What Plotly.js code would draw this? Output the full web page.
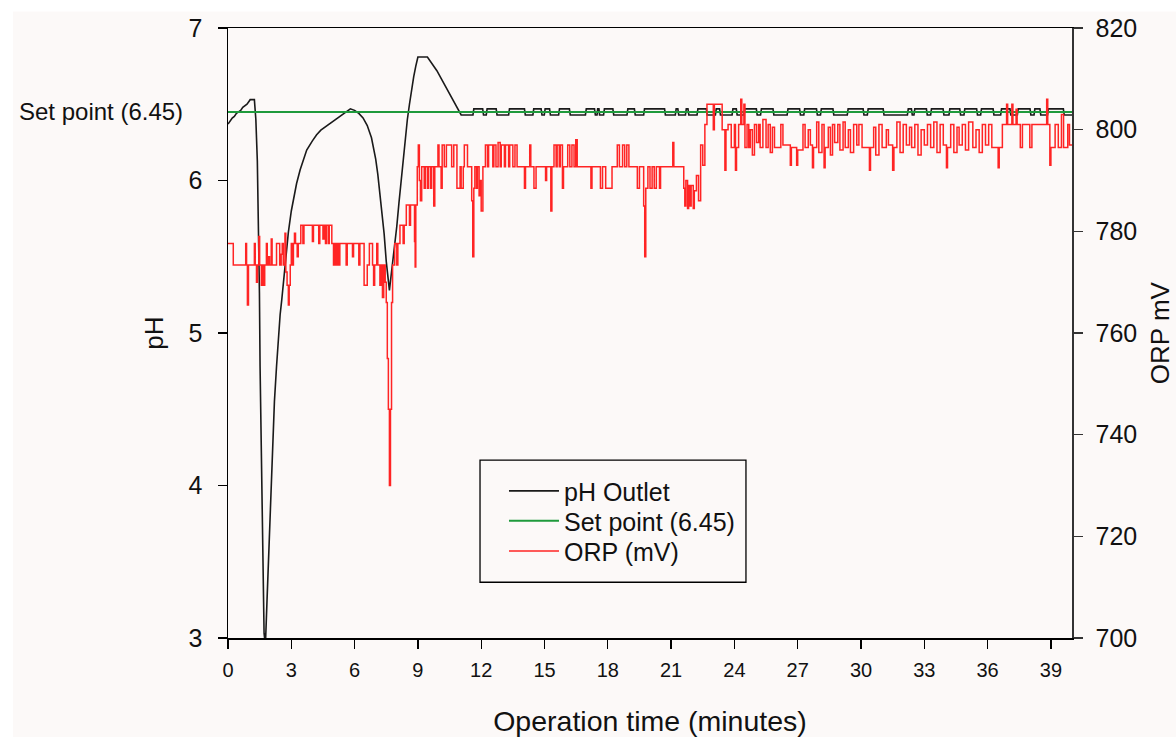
<!DOCTYPE html>
<html>
<head>
<meta charset="utf-8">
<script src="https://cdn.plot.ly/plotly-3.0.1.min.js"></script>
<style>
  html, body { margin: 0; padding: 0; background: #ffffff; }
  #chart { width: 1176px; height: 737px; }
</style>
</head>
<body>
<div id="chart"></div>
<script>
// ---- Data ----
const xTickVals = [0, 3, 6, 9, 12, 15, 18, 21, 24, 27, 30, 33, 36, 39];
const setPointValue = 6.45;
const setPointTime = [0, 40];

// pH outlet (time in minutes, pH)
const phTime = [
  0, 0.1, 0.2, 0.3, 0.4, 0.5, 0.6, 0.7, 0.8, 0.9,
  1.0, 1.05, 1.25, 1.32, 1.39, 1.45, 1.49, 1.52, 1.56, 1.6,
  1.65, 1.71, 1.75, 1.78, 1.85, 1.96, 2.05, 2.12, 2.2, 2.3,
  2.39, 2.47, 2.55, 2.7, 2.86, 3.0, 3.1, 3.25, 3.42, 3.6,
  3.73, 4.0, 4.2, 4.4, 4.6, 4.8, 5.0, 5.2, 5.4, 5.6,
  5.8, 6.0, 6.2, 6.4, 6.6, 6.8, 6.9, 7.0, 7.1, 7.2,
  7.3, 7.4, 7.5, 7.6, 7.65, 7.7, 7.8, 7.9, 8.0, 8.1,
  8.2, 8.3, 8.4, 8.5, 8.6, 8.7, 8.8, 8.9, 9.0, 9.45,
  9.7, 9.9, 10.1, 10.3, 10.5, 10.7, 10.9, 11.05,
  11.61, 11.65, 12.07, 12.11,
  12.24, 12.28, 12.71, 12.75,
  13.30, 13.34, 14.05, 14.09,
  14.45, 14.49, 14.84, 14.88,
  14.99, 15.03, 15.24, 15.28,
  15.67, 15.71, 16.18, 16.22,
  16.94, 16.98, 17.37, 17.41,
  17.49, 17.52, 17.58, 17.61,
  17.80, 17.84, 18.24, 18.28,
  18.91, 18.95, 19.26, 19.30,
  19.70, 19.74, 20.69, 20.73,
  21.20, 21.24, 21.32, 21.36,
  21.68, 21.72, 21.80, 21.84,
  22.23, 22.27, 22.67, 22.71,
  23.10, 23.14, 23.30, 23.34,
  23.89, 23.93, 24.09, 24.13,
  24.45, 24.49, 25.04, 25.08,
  25.24, 25.28, 25.83, 25.87,
  26.50, 26.54, 27.09, 27.13,
  27.29, 27.33, 27.89, 27.93,
  28.08, 28.12, 28.67, 28.71,
  29.35, 29.39, 30.10, 30.14,
  30.30, 30.34, 31.05, 31.09,
  32.20, 32.24, 32.39, 32.43,
  32.51, 32.55, 33.10, 33.14,
  33.30, 33.34, 33.89, 33.93,
  34.17, 34.21, 34.68, 34.72,
  34.88, 34.92, 35.48, 35.52,
  35.67, 35.71, 36.26, 36.30,
  36.62, 36.66, 37.06, 37.10,
  37.41, 37.45, 38.01, 38.05,
  38.20, 38.24, 38.48, 38.52,
  38.84, 38.88, 39.59, 39.63,
  40
];
const phValue = [
  6.37, 6.39, 6.41, 6.42, 6.44, 6.45, 6.46, 6.48, 6.49, 6.50,
  6.52, 6.53, 6.53, 6.40, 6.13, 5.70, 5.26, 4.78, 4.35, 3.90,
  3.45, 3.03, 2.98, 2.98, 3.25, 3.69, 4.05, 4.34, 4.55, 4.78,
  5.00, 5.12, 5.22, 5.45, 5.66, 5.80, 5.87, 5.98, 6.07, 6.15,
  6.20, 6.26, 6.30, 6.33, 6.35, 6.37, 6.39, 6.41, 6.43, 6.45,
  6.47, 6.46, 6.44, 6.41, 6.36, 6.28, 6.22, 6.14, 6.04, 5.92,
  5.79, 5.65, 5.47, 5.33, 5.28, 5.34, 5.45, 5.58, 5.70, 5.85,
  6.00, 6.13, 6.28, 6.40, 6.50, 6.60, 6.68, 6.75, 6.81, 6.81,
  6.76, 6.72, 6.67, 6.62, 6.57, 6.52, 6.47, 6.43,
  6.43, 6.47, 6.47, 6.43,
  6.43, 6.47, 6.47, 6.43,
  6.43, 6.47, 6.47, 6.43,
  6.43, 6.47, 6.47, 6.43,
  6.43, 6.47, 6.47, 6.43,
  6.43, 6.47, 6.47, 6.43,
  6.43, 6.47, 6.47, 6.43,
  6.43, 6.47, 6.47, 6.43,
  6.43, 6.47, 6.47, 6.43,
  6.43, 6.47, 6.47, 6.43,
  6.43, 6.47, 6.47, 6.43,
  6.43, 6.47, 6.47, 6.43,
  6.43, 6.47, 6.47, 6.43,
  6.43, 6.47, 6.47, 6.43,
  6.43, 6.47, 6.47, 6.43,
  6.43, 6.47, 6.47, 6.43,
  6.43, 6.47, 6.47, 6.43,
  6.43, 6.47, 6.47, 6.43,
  6.43, 6.47, 6.47, 6.43,
  6.43, 6.47, 6.47, 6.43,
  6.43, 6.47, 6.47, 6.43,
  6.43, 6.47, 6.47, 6.43,
  6.43, 6.47, 6.47, 6.43,
  6.43, 6.47, 6.47, 6.43,
  6.43, 6.47, 6.47, 6.43,
  6.43, 6.47, 6.47, 6.43,
  6.43, 6.47, 6.47, 6.43,
  6.43, 6.47, 6.47, 6.43,
  6.43, 6.47, 6.47, 6.43,
  6.43, 6.47, 6.47, 6.43,
  6.43, 6.47, 6.47, 6.43,
  6.43, 6.47, 6.47, 6.43,
  6.43, 6.47, 6.47, 6.43,
  6.43
];

// ORP (time in minutes, mV) – value holds until next time (step trace)
const orpTime = [
  0, 0.25, 0.84, 0.88, 0.92, 0.97, 1.25, 1.29, 1.35, 1.4,
  1.46, 1.5, 1.58, 1.63, 1.7, 1.74, 1.82, 1.86, 1.92, 1.97,
  2.05, 2.09, 2.3, 2.45, 2.52, 2.57, 2.62, 2.7, 2.74, 2.8,
  2.86, 2.9, 2.95, 3.0, 3.05, 3.1, 3.15, 3.2, 3.28, 3.33,
  3.45, 3.55, 3.6, 4.0, 4.05, 4.3, 4.35, 4.5, 4.55, 4.62,
  4.66, 4.75, 4.8, 4.92, 5.0, 5.05, 5.12, 5.18, 5.25, 5.3,
  5.6, 5.65, 5.9, 5.95, 6.2, 6.25, 6.45, 6.6, 6.7, 6.85,
  6.9, 6.95, 7.05, 7.1, 7.2, 7.25, 7.32, 7.38, 7.45, 7.5,
  7.55, 7.6, 7.65, 7.7, 7.75, 7.8, 7.9, 8.0, 8.05, 8.15,
  8.3, 8.35, 8.45, 8.6, 8.65, 8.84, 8.87, 8.9, 8.97, 9.02,
  9.07, 9.12, 9.18, 9.3, 9.35, 9.45, 9.5, 9.6, 9.65, 9.75,
  9.8, 9.95, 10.0, 10.1, 10.15, 10.25, 10.35, 10.6, 10.7, 10.85,
  11.0, 11.05, 11.15, 11.2, 11.35, 11.55, 11.6, 11.65, 11.7, 11.78,
  11.82, 11.9, 11.95, 12.0, 12.08, 12.2, 12.3, 12.35, 12.55, 12.6,
  12.7, 12.8, 12.9, 12.95, 13.1, 13.15, 13.3, 13.35, 13.5, 13.6,
  13.7, 14.05, 14.1, 14.3, 14.35, 14.5, 14.6, 15.05, 15.1, 15.3,
  15.35, 15.45, 15.55, 15.6, 15.7, 15.75, 15.85, 15.9, 16.1, 16.2,
  16.3, 16.4, 16.48, 16.55, 17.2, 17.25, 17.65, 17.75, 17.9, 18.2,
  18.45, 18.55, 18.7, 18.8, 18.9, 19.0, 19.4, 19.5, 19.7, 19.75,
  19.8, 19.9, 20.0, 20.1, 20.2, 20.3, 20.45, 20.5, 21.08, 21.13,
  21.6, 21.65, 21.7, 21.78, 21.83, 21.9, 21.95, 22.05, 22.1, 22.2,
  22.3, 22.4, 22.5, 22.6, 22.7, 23.0, 23.05, 23.42, 23.55, 23.6,
  23.7, 23.85, 24.0, 24.05, 24.1, 24.2, 24.3, 24.35, 24.45, 24.5,
  24.6, 24.68, 24.75, 24.85, 24.95, 25.05, 25.15, 25.22, 25.35, 25.5,
  25.6, 25.7, 25.8, 25.9, 26.2, 26.3, 26.65, 26.7, 26.95, 27.0,
  27.25, 27.35, 27.5, 27.6, 27.7, 27.75, 27.9, 28.0, 28.15, 28.25,
  28.3, 28.45, 28.55, 28.65, 28.75, 28.9, 29.0, 29.15, 29.25, 29.4,
  29.5, 29.65, 29.8, 29.9, 30.05, 30.4, 30.45, 30.6, 30.7, 30.85,
  31.0, 31.2, 31.3, 31.5, 31.56, 31.7, 31.85, 32.0, 32.15, 32.3,
  32.4, 32.55, 32.7, 32.85, 33.0, 33.15, 33.3, 33.45, 33.6, 33.75,
  33.9, 34.05, 34.1, 34.25, 34.4, 34.55, 34.65, 34.8, 34.95, 35.1,
  35.3, 35.45, 35.6, 35.75, 35.9, 36.05, 36.2, 36.5, 36.55, 36.7,
  36.9, 36.95, 37.15, 37.2, 37.35, 37.4, 37.55, 37.65, 38.0, 38.1,
  38.8, 38.85, 38.95, 39.0, 39.2, 39.35, 39.5, 39.6, 39.8, 39.88,
  40
];
const orpValue = [
  777.6, 773.4, 777.6, 773.4, 765.5, 773.4, 777.6, 773.4, 770, 773.4,
  779, 773.4, 769.4, 773.4, 769.4, 773.4, 777.6, 773.4, 775, 773.4,
  778.5, 773.4, 777.6, 773.4, 775.5, 777.6, 773.4, 779.6, 772, 769.4,
  765.5, 769.4, 773.4, 777.6, 773.4, 777.6, 779.6, 777.6, 775, 777.6,
  781.2, 777.6, 781.2, 778, 781.2, 777.6, 781.2, 778.5, 781.2, 777.6,
  781.2, 777.6, 781.2, 777.6, 773.4, 777.6, 773.4, 777.6, 773.4, 777.6,
  773.4, 777.6, 775, 777.6, 773.4, 777.6, 769.4, 773.4, 777.6, 773.4,
  769.4, 773.4, 777.6, 773.4, 769.4, 773.4, 767, 773.4, 770, 766,
  755, 745, 730, 745, 766, 773.4, 777.6, 773.4, 777.6, 781.2,
  777.6, 781.2, 785.2, 781.2, 785.2, 778, 773, 785.2, 792.7, 797,
  790, 786, 792.7, 788.5, 792.7, 788.5, 792.7, 788.5, 792.7, 785,
  792.7, 797, 792.7, 788.5, 797, 792.7, 797, 792.7, 797, 788.5,
  792.7, 788.5, 792.7, 797, 792.7, 786, 775, 788.5, 792.7, 788.5,
  792.7, 787, 790, 784, 792.7, 797, 792.7, 797, 792.7, 797,
  792.7, 797.5, 792.7, 797, 792.7, 797, 792.7, 797, 792.7, 797,
  792.7, 788.5, 792.7, 797, 792.7, 788.5, 792.7, 790, 792.7, 784,
  792.7, 797, 792.7, 797, 792.7, 797, 788.5, 792.7, 797, 792.7,
  797, 792.7, 798, 792.7, 788.5, 792.7, 788.5, 792.7, 788.5, 792.7,
  797, 792.7, 797, 792.7, 797, 792.7, 788.5, 792.7, 785, 775,
  788.5, 792.7, 788.5, 792.7, 788.5, 792.7, 788.5, 792.7, 797.5, 792.7,
  788.5, 785, 790, 784.5, 789, 785, 789, 784.5, 788, 791,
  786, 797, 793, 801, 805, 800, 805, 800, 792, 800,
  801, 796.5, 801, 792, 796.5, 801, 806, 801, 805, 796.5,
  801, 796.5, 800, 795, 801, 797.5, 801, 796.5, 802, 796.5,
  801, 795.5, 800.5, 796.5, 801, 797, 793, 796.5, 793, 796,
  801, 796.5, 800, 797, 792.5, 796.5, 801.5, 795.5, 801, 792.5,
  796.5, 800.5, 795, 801, 797.5, 801, 796, 801.5, 796.5, 800,
  795.5, 801, 797, 801, 796.5, 792, 796.5, 800.5, 795, 801,
  796.5, 800, 797, 792, 796.5, 801.5, 795.5, 801, 797, 800.5,
  796.5, 801, 795, 800, 797, 801, 796.5, 801.5, 795.5, 801,
  797, 792.5, 796.5, 801, 795.5, 800.5, 797, 801, 796, 801.5,
  796.5, 800, 795.5, 801, 797, 801, 796.5, 792.5, 796.5, 801,
  805, 801, 805, 801, 804, 801, 796.5, 801, 796.5, 801,
  806, 801, 793, 796.5, 801, 796.5, 803, 796.5, 801, 797,
  797
];

const seriesNames = ['pH Outlet', 'Set point (6.45)', 'ORP (mV)'];
const seriesColors = ['#1a1a1a', '#1f9a3c', '#ff2424'];

// ---- Figure ----
const BG = '#fcf9f8';
const FONT = 'Arial, "Liberation Sans", Helvetica, sans-serif';

const traces = [
  {
    x: phTime, y: phValue, type: 'scatter', mode: 'lines',
    name: seriesNames[0], line: { color: seriesColors[0], width: 1.6 },
    yaxis: 'y', hoverinfo: 'skip', legend: 'legend'
  },
  {
    x: setPointTime, y: setPointTime.map(() => setPointValue), type: 'scatter', mode: 'lines',
    name: seriesNames[1], line: { color: seriesColors[1], width: 2 },
    yaxis: 'y', hoverinfo: 'skip', legend: 'legend2'
  },
  {
    x: orpTime, y: orpValue, type: 'scatter', mode: 'lines',
    name: seriesNames[2], line: { color: seriesColors[2], width: 1.5, shape: 'hv' },
    yaxis: 'y2', hoverinfo: 'skip', legend: 'legend3'
  }
];

function legendAt(yPos) {
  return {
    x: 0.327, y: yPos, xanchor: 'left', yanchor: 'middle',
    bgcolor: 'rgba(0,0,0,0)', borderwidth: 0,
    font: { family: FONT, size: 25, color: '#111111' },
    itemwidth: 50
  };
}

const layout = {
  width: 1176, height: 737,
  paper_bgcolor: BG, plot_bgcolor: BG,
  margin: { l: 228, r: 104, t: 28, b: 99, pad: 0 },
  font: { family: FONT, color: '#111111', size: 20 },
  showlegend: true,
  legend: legendAt(0.2408),
  legend2: legendAt(0.1916),
  legend3: legendAt(0.1423),
  xaxis: {
    range: [0, 40], tickmode: 'array', tickvals: xTickVals,
    ticks: 'outside', ticklen: 9, tickwidth: 1.3, tickcolor: '#000',
    showline: true, linecolor: '#000', linewidth: 1.5, mirror: true,
    showgrid: false, zeroline: false, ticklabelstandoff: 4,
    tickfont: { family: FONT, size: 20, color: '#111' },
    title: { text: 'Operation time (minutes)', font: { family: FONT, size: 28.5, color: '#111' }, standoff: 34 }
  },
  yaxis: {
    range: [3, 7], dtick: 1, tick0: 3,
    ticks: 'outside', ticklen: 9, tickwidth: 1.3, tickcolor: '#000',
    showline: true, linecolor: '#000', linewidth: 1.5,
    showgrid: false, zeroline: false, ticklabelstandoff: 10,
    tickfont: { family: FONT, size: 25, color: '#111' },
    title: { text: 'pH', font: { family: FONT, size: 26, color: '#111' }, standoff: 17 }
  },
  yaxis2: {
    range: [700, 820], dtick: 20, tick0: 700, overlaying: 'y', side: 'right',
    ticks: 'outside', ticklen: 9, tickwidth: 1.3, tickcolor: '#333',
    showline: true, linecolor: '#333', linewidth: 1.5,
    showgrid: false, zeroline: false, ticklabelstandoff: 8,
    tickfont: { family: FONT, size: 25, color: '#111' }
  },
  annotations: [
    {
      text: 'Set point (6.45)', xref: 'paper', yref: 'y',
      x: -0.051, y: setPointValue, xanchor: 'right', yanchor: 'middle',
      showarrow: false, font: { family: FONT, size: 24, color: '#111' }
    },
    {
      text: 'ORP mV', xref: 'paper', yref: 'paper',
      x: 1.1045, y: 0.5, xanchor: 'center', yanchor: 'middle', textangle: -90,
      showarrow: false, font: { family: FONT, size: 26, color: '#111' }
    }
  ],
  shapes: [
    { type: 'rect', xref: 'paper', yref: 'paper', x0: 0.2986, x1: 0.6137, y0: 0.0914, y1: 0.2917,
      line: { color: '#000', width: 1.3 }, fillcolor: 'rgba(0,0,0,0)' },
    { type: 'rect', xref: 'paper', yref: 'paper', x0: -0.3, x1: 1.2, y0: 1.027, y1: 1.06,
      line: { width: 0 }, fillcolor: '#ffffff', layer: 'below' },
    { type: 'rect', xref: 'paper', yref: 'paper', x0: -0.3, x1: -0.2547, y0: -0.2, y1: 1.06,
      line: { width: 0 }, fillcolor: '#ffffff', layer: 'below' }
  ]
};

Plotly.newPlot('chart', traces, layout, { staticPlot: true, displayModeBar: false });
</script>
</body>
</html>
